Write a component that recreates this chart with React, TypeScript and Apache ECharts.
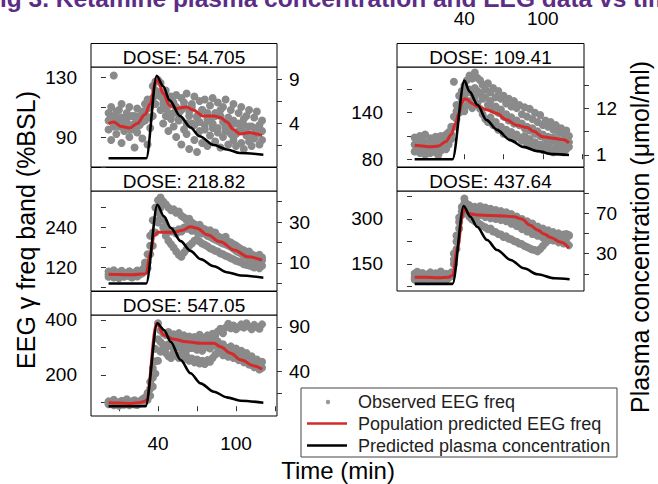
import React, { useEffect, useRef } from "react";
import * as echarts from "echarts";

// ---------- data ----------
const TIMES = [2, 4, 6, 8, 10, 12, 14, 16, 18, 20, 22, 24, 26, 28, 30, 32, 34, 36, 38, 40, 42, 44, 46, 48, 50, 52, 54, 56, 58, 60, 62, 64, 66, 68, 70, 72, 74, 76, 78, 80, 82, 84, 86, 88, 90, 92, 94, 96, 98, 100, 102, 104, 106, 108, 110, 112, 114, 116, 118, 120];

const X_TICKS = [10, 40, 70, 100, 130];
const X_LABELS = [40, 100];

const DOSES = ["54.705", "109.41", "218.82", "437.64", "547.05"];

// Dose 54.705
const OBS_A1 = [106, 110, 131, 103, 108, 112, 100, 106, 110, 98, 104, 109, 101, 107, 112, 115, 110, 124, 127, 120, 126, 115, 121, 111, 117, 113, 118, 106, 116, 110, 119, 104, 112, 117, 103, 114, 108, 115, 102, 111, 116, 106, 113, 104, 110, 115, 101, 108, 112, 99, 106, 110, 98, 104, 108, 97, 103, 107, 95, 101];
const OBS_A2 = [95, 88, 100, 92, 97, 86, 94, 99, 90, 95, 83, 93, 98, 89, 101, 85, 96, 104, 112, 118, 108, 99, 104, 94, 102, 97, 90, 101, 85, 95, 92, 82, 99, 88, 80, 94, 86, 98, 84, 91, 96, 87, 93, 83, 90, 97, 85, 92, 88, 84, 94, 86, 82, 91, 87, 84, 89, 93, 85, 88];
const OBS_A3 = [101, 104, 97, 107, 99, 103, 96, 102, 95, 104, 99, 97, 104, 100, 106, 109, 103, 116, 121, 128, 117, 112, 109, 106, 112, 106, 110, 102, 108, 113, 99, 107, 110, 98, 104, 100, 108, 95, 106, 101, 99, 104, 96, 108, 100, 94, 103, 97, 101, 92, 99, 95, 102, 93, 97, 90, 96, 92, 98, 94];
const RED_A = [[2, 99], [6, 100], [12, 97], [18, 96], [24, 99], [30, 105], [34, 112], [38, 126], [40, 128], [44, 119], [49, 111], [54, 109], [62, 110], [67, 108], [75, 104], [83, 104], [88, 103], [93, 100], [98, 95], [103, 92], [111, 93], [116, 92], [120, 91]];
const PK_A = [[2, 0], [31, 0], [39, 9.4], [44, 8.2], [49, 6.6], [57, 4.8], [65, 3.5], [72, 2.5], [83, 1.5], [93, 1.0], [103, 0.6], [121, 0.4]];
const EEG_TICKS_A = [70, 90, 110, 130];
const EEG_LABELS_A = [90, 130];
const PK_TICKS_A = [1.5, 4, 6.5, 9];
const PK_LABELS_A = [4, 9];

// Dose 109.41
const OBS_B1 = [108, 103, 110, 105, 112, 101, 107, 104, 109, 102, 110, 106, 112, 115, 122, 180, 150, 162, 168, 175, 182, 188, 184, 192, 185, 182, 176, 170, 178, 166, 172, 160, 168, 158, 162, 152, 158, 148, 155, 146, 150, 138, 147, 135, 145, 132, 140, 128, 137, 124, 130, 122, 128, 118, 124, 115, 120, 112, 117, 110];
const OBS_B2 = [90, 95, 88, 93, 86, 91, 88, 94, 89, 85, 91, 96, 93, 99, 106, 122, 132, 140, 146, 142, 150, 155, 146, 160, 152, 145, 138, 132, 128, 134, 124, 128, 118, 122, 113, 118, 110, 115, 106, 112, 108, 104, 110, 100, 106, 97, 102, 94, 99, 92, 97, 91, 95, 89, 94, 91, 95, 89, 93, 96];
const OBS_B3 = [99, 102, 96, 100, 94, 97, 101, 96, 99, 94, 98, 102, 100, 104, 112, 135, 142, 150, 158, 160, 166, 170, 165, 172, 168, 165, 158, 160, 150, 155, 146, 148, 140, 144, 135, 138, 130, 134, 126, 130, 124, 126, 120, 122, 117, 120, 113, 116, 110, 112, 106, 109, 104, 108, 102, 105, 101, 104, 100, 102];
const RED_B = [[2, 98], [8, 97], [14, 96], [20, 97], [26, 103], [30, 112], [33, 125], [36, 140], [38, 152], [40, 158], [42, 157], [46, 152], [50, 148], [57, 144], [65, 139], [72, 131], [80, 124], [88, 121], [93, 116], [100, 109], [108, 107], [116, 105], [120, 101]];
const PK_B = [[2, 0], [31, 0], [40, 18.5], [44, 15.9], [50, 12.8], [57, 9.2], [65, 6.9], [75, 4.5], [85, 2.9], [96, 1.9], [108, 1.2], [120, 1.0]];
const EEG_TICKS_B = [80, 110, 140, 170];
const EEG_LABELS_B = [80, 140];
const PK_TICKS_B = [1, 6.5, 12, 17.5];
const PK_LABELS_B = [1, 12];

// Dose 218.82
const OBS_C1 = [108, 100, 112, 98, 105, 110, 102, 96, 109, 104, 99, 111, 103, 114, 125, 160, 215, 262, 300, 322, 330, 318, 310, 300, 292, 295, 284, 288, 275, 270, 262, 266, 255, 250, 245, 248, 238, 235, 228, 232, 220, 225, 214, 210, 205, 212, 198, 195, 190, 186, 180, 175, 172, 165, 168, 160, 156, 152, 158, 150];
const OBS_C2 = [92, 97, 90, 99, 88, 95, 92, 100, 94, 90, 96, 93, 99, 103, 135, 118, 160, 185, 225, 255, 270, 240, 215, 200, 190, 180, 168, 158, 152, 165, 175, 185, 192, 200, 205, 198, 192, 188, 184, 178, 175, 170, 168, 162, 160, 155, 152, 148, 145, 140, 138, 135, 130, 128, 126, 124, 120, 122, 118, 125];
const OBS_C3 = [100, 104, 95, 102, 98, 101, 96, 104, 100, 97, 103, 98, 101, 108, 112, 135, 185, 225, 260, 285, 300, 265, 245, 235, 228, 230, 222, 235, 228, 240, 236, 244, 230, 238, 226, 232, 222, 225, 215, 212, 208, 204, 200, 196, 192, 190, 186, 182, 176, 170, 166, 162, 156, 152, 148, 145, 140, 144, 138, 142];
const RED_C = [[2, 100], [10, 99], [20, 98], [30, 101], [31, 103], [34, 160], [37, 215], [40, 226], [52, 226], [58, 231], [65, 242], [70, 238], [78, 218], [88, 197], [99, 172], [109, 152], [120, 142]];
const PK_C = [[2, 0], [31, 0], [39.5, 38.4], [44.6, 32.8], [49.7, 27.2], [57.4, 20.7], [65, 15.9], [72.7, 11.9], [83, 8.4], [93, 5.5], [103.5, 3.9], [121, 2.8]];
const EEG_TICKS_C = [60, 120, 180, 240, 300];
const EEG_LABELS_C = [120, 240];
const PK_TICKS_C = [0, 10, 20, 30, 40];
const PK_LABELS_C = [10, 30];

// Dose 437.64
const OBS_D1 = [118, 124, 112, 120, 108, 116, 122, 110, 119, 113, 125, 109, 117, 114, 122, 185, 245, 305, 340, 368, 350, 345, 332, 340, 328, 342, 330, 338, 326, 334, 322, 330, 318, 326, 314, 322, 310, 316, 305, 308, 298, 300, 290, 292, 282, 285, 272, 275, 265, 268, 258, 262, 250, 256, 246, 252, 242, 248, 240, 244];
const OBS_D2 = [98, 94, 104, 96, 101, 93, 100, 97, 94, 102, 95, 99, 96, 103, 110, 150, 200, 268, 312, 338, 318, 306, 298, 292, 288, 282, 276, 272, 266, 268, 258, 256, 250, 248, 240, 242, 234, 232, 226, 224, 218, 216, 210, 206, 202, 198, 196, 192, 200, 210, 220, 228, 236, 244, 238, 250, 244, 240, 250, 246];
const OBS_D3 = [106, 110, 102, 108, 104, 99, 107, 103, 110, 105, 101, 108, 104, 106, 116, 165, 225, 290, 325, 352, 330, 322, 315, 318, 312, 312, 318, 306, 314, 302, 310, 300, 308, 296, 304, 292, 298, 284, 290, 276, 280, 266, 270, 258, 262, 250, 255, 244, 248, 238, 242, 232, 236, 228, 232, 222, 226, 218, 222, 212];
const RED_D = [[2, 106], [10, 106], [20, 104], [28, 106], [31, 112], [35, 208], [38.5, 310], [40, 335], [43, 318], [50, 313], [60, 311], [70, 310], [78, 307], [84, 300], [90, 280], [96, 263], [101, 250], [106, 238], [114, 222], [120, 203]];
const PK_D = [[2, 0], [31, 0], [39.5, 77.2], [44.6, 66.6], [49.7, 56.7], [57.4, 43.5], [65, 33.6], [75.4, 23.7], [85.6, 15.4], [96, 9.5], [108.7, 5.5], [120.5, 4.5]];
const EEG_TICKS_D = [75, 150, 225, 300, 375];
const EEG_LABELS_D = [150, 300];
const PK_TICKS_D = [10, 30, 50, 70, 90];
const PK_LABELS_D = [30, 70];

// Dose 547.05
const OBS_E1 = [104, 98, 110, 100, 95, 106, 99, 112, 101, 96, 108, 100, 105, 112, 118, 135, 175, 225, 295, 388, 362, 352, 345, 356, 338, 348, 336, 352, 330, 344, 326, 340, 322, 338, 328, 346, 320, 336, 344, 330, 350, 342, 358, 368, 352, 372, 386, 370, 380, 366, 374, 384, 372, 388, 376, 366, 382, 374, 368, 384];
const OBS_E2 = [94, 100, 90, 97, 88, 96, 92, 95, 90, 99, 93, 91, 97, 100, 106, 110, 125, 158, 205, 252, 285, 298, 280, 268, 262, 282, 270, 262, 276, 258, 268, 252, 260, 246, 256, 242, 252, 240, 254, 248, 262, 274, 282, 288, 272, 284, 266, 278, 262, 270, 254, 260, 246, 250, 238, 236, 228, 232, 220, 226];
const OBS_E3 = [99, 95, 104, 97, 101, 93, 102, 98, 96, 104, 99, 97, 101, 105, 110, 120, 150, 190, 250, 330, 320, 310, 300, 312, 305, 312, 300, 318, 296, 306, 290, 310, 298, 314, 292, 304, 288, 300, 310, 296, 318, 306, 322, 298, 312, 300, 290, 304, 282, 296, 276, 288, 268, 280, 260, 268, 250, 256, 240, 248];
const RED_E = [[2, 99], [10, 98], [18, 96], [26, 100], [30, 105], [31, 109], [39, 388], [44.6, 345], [52, 330], [62, 321], [73, 315], [83, 315], [88, 303], [96, 279], [103.5, 255], [114, 233], [120, 221]];
const PK_E = [[2, 0], [30.5, 0], [39.5, 94.2], [44.6, 86.6], [49.7, 73.3], [57.4, 52.5], [65, 37.4], [72.7, 26], [83, 16.5], [93, 10.1], [103.5, 6.3], [121, 4]];
const EEG_TICKS_E = [100, 200, 300, 400];
const EEG_LABELS_E = [200, 400];
const PK_TICKS_E = [15, 40, 65, 90];
const PK_LABELS_E = [40, 90];

const LEGEND_LABELS = ["Observed EEG freq", "Population predicted EEG freq", "Predicted plasma concentration"];

// ---------- layout ----------
const FONT = "'Liberation Sans', Arial, Helvetica, sans-serif";
const GREY = "#8a8a8a";
const RED = "#d42a2a";
const STRIP_H = 23.5;

const PANELS = [
  { dose: DOSES[0], obs: [OBS_A1, OBS_A2, OBS_A3], red: RED_A, pk: PK_A, left: 91, top: 67, width: 186, height: 100, eMin: 70, eMax: 136.7, eT: EEG_TICKS_A, eL: EEG_LABELS_A, cMin: -1, cMax: 10.4, cT: PK_TICKS_A, cL: PK_LABELS_A, xPos: "" },
  { dose: DOSES[1], obs: [OBS_B1, OBS_B2, OBS_B3], red: RED_B, pk: PK_B, left: 397, top: 67, width: 187, height: 100, eMin: 70, eMax: 199, eT: EEG_TICKS_B, eL: EEG_LABELS_B, cMin: -1.83, cMax: 21.7, cT: PK_TICKS_B, cL: PK_LABELS_B, xPos: "top" },
  { dose: DOSES[2], obs: [OBS_C1, OBS_C2, OBS_C3], red: RED_C, pk: PK_C, left: 91, top: 191, width: 186, height: 100, eMin: 49.5, eMax: 349.5, eT: EEG_TICKS_C, eL: EEG_LABELS_C, cMin: -3.7, cMax: 45.2, cT: PK_TICKS_C, cL: PK_LABELS_C, xPos: "" },
  { dose: DOSES[3], obs: [OBS_D1, OBS_D2, OBS_D3], red: RED_D, pk: PK_D, left: 397, top: 191, width: 187, height: 100, eMin: 60, eMax: 393, eT: EEG_TICKS_D, eL: EEG_LABELS_D, cMin: -7.1, cMax: 92.1, cT: PK_TICKS_D, cL: PK_LABELS_D, xPos: "" },
  { dose: DOSES[4], obs: [OBS_E1, OBS_E2, OBS_E3], red: RED_E, pk: PK_E, left: 91, top: 315, width: 186, height: 101, eMin: 51, eMax: 418, eT: EEG_TICKS_E, eL: EEG_LABELS_E, cMin: -11.1, cMax: 103.6, cT: PK_TICKS_E, cL: PK_LABELS_E, xPos: "bottom" },
];

export default function App() {
  const ref = useRef<HTMLDivElement>(null);
  useEffect(() => {
    const chart = echarts.init(ref.current as HTMLDivElement, undefined, { renderer: "svg", width: 658, height: 484 });
    const grid: any[] = [];
    const xAxis: any[] = [];
    const yAxis: any[] = [];
    const series: any[] = [];
    const graphic: any[] = [];
    const labelStyle = { color: "#000", fontSize: 19, fontFamily: FONT };
    const tickStyle = { color: "#333", width: 1 };

    PANELS.forEach((p, i) => {
      grid.push({ left: p.left, top: p.top, width: p.width, height: p.height, show: true, borderColor: "#000", borderWidth: 1, backgroundColor: "#fff" });
      const hasX = p.xPos !== "";
      const isTop = p.xPos === "top";
      xAxis.push({
        gridIndex: i, type: "value", min: -11.5, max: 131.5,
        position: isTop ? "top" : "bottom",
        offset: isTop ? STRIP_H : 0,
        axisLine: { show: false }, splitLine: { show: false },
        axisTick: { show: hasX, customValues: X_TICKS, length: 5, lineStyle: tickStyle },
        axisLabel: { show: hasX, customValues: X_LABELS, margin: isTop ? 16 : 18, ...labelStyle },
      });
      yAxis.push({
        gridIndex: i, type: "value", position: "left", min: p.eMin, max: p.eMax,
        axisLine: { show: false }, splitLine: { show: false },
        axisTick: { show: true, customValues: p.eT, length: 5, lineStyle: tickStyle },
        axisLabel: { show: true, customValues: p.eL, margin: 14, ...labelStyle },
      });
      yAxis.push({
        gridIndex: i, type: "value", position: "right", min: p.cMin, max: p.cMax,
        axisLine: { show: false }, splitLine: { show: false },
        axisTick: { show: true, customValues: p.cT, length: 5, lineStyle: tickStyle },
        axisLabel: { show: true, customValues: p.cL, margin: 12, ...labelStyle },
      });
      p.obs.forEach((obs) => {
        series.push({
          type: "scatter", xAxisIndex: i, yAxisIndex: 2 * i, z: 2,
          data: TIMES.map((t, j) => [t, obs[j]]),
          symbol: "circle", symbolSize: 8, itemStyle: { color: GREY, opacity: 1 },
        });
      });
      series.push({
        type: "line", xAxisIndex: i, yAxisIndex: 2 * i, z: 3, data: p.red,
        smooth: 0.35, smoothMonotone: "x", showSymbol: false,
        lineStyle: { color: RED, width: 3 },
      });
      series.push({
        type: "line", xAxisIndex: i, yAxisIndex: 2 * i + 1, z: 4, data: p.pk,
        smooth: 0.3, smoothMonotone: "x", showSymbol: false,
        lineStyle: { color: "#000", width: 2.6 },
      });
      graphic.push({
        type: "rect", shape: { x: p.left, y: p.top - STRIP_H, width: p.width, height: STRIP_H },
        style: { fill: "#fff", stroke: "#000", lineWidth: 1 },
      });
      graphic.push({
        type: "text", x: p.left + p.width / 2, y: p.top - STRIP_H / 2 + 2,
        style: { text: "DOSE: " + p.dose, fontSize: 19, fontFamily: FONT, fill: "#000", align: "center", verticalAlign: "middle" },
      });
    });

    // title (cut at top, as in the source figure)
    graphic.push({
      type: "text", x: -15, y: -1.5,
      style: { text: "Fig 3. Ketamine plasma concentration and EEG data vs time", fontSize: 24.5, fontWeight: "bold", fontFamily: FONT, fill: "#5b2d86", align: "left", verticalAlign: "middle" },
    });
    // axis titles
    graphic.push({
      type: "text", x: 26, y: 230, rotation: Math.PI / 2,
      style: { text: "EEG γ freq band (%BSL)", fontSize: 25, fontFamily: FONT, fill: "#000", align: "center", verticalAlign: "middle" },
    });
    graphic.push({
      type: "text", x: 640, y: 237, rotation: Math.PI / 2,
      style: { text: "Plasma concentration (μmol/ml)", fontSize: 25, fontFamily: FONT, fill: "#000", align: "center", verticalAlign: "middle" },
    });
    graphic.push({
      type: "text", x: 338, y: 470,
      style: { text: "Time (min)", fontSize: 24, fontFamily: FONT, fill: "#000", align: "center", verticalAlign: "middle" },
    });
    // legend
    graphic.push({
      type: "rect", shape: { x: 301, y: 388, width: 316, height: 69 },
      style: { fill: "#fff", stroke: "#444", lineWidth: 1 },
    });
    graphic.push({ type: "circle", shape: { cx: 328, cy: 402, r: 2.2 }, style: { fill: "#999" } });
    graphic.push({ type: "line", shape: { x1: 307, y1: 423.5, x2: 347, y2: 423.5 }, style: { stroke: RED, lineWidth: 2.5 } });
    graphic.push({ type: "line", shape: { x1: 307, y1: 445.5, x2: 347, y2: 445.5 }, style: { stroke: "#000", lineWidth: 2.5 } });
    LEGEND_LABELS.forEach((lab, k) => {
      graphic.push({
        type: "text", x: 358, y: 402 + 22 * k,
        style: { text: lab, fontSize: 18, fontFamily: FONT, fill: "#222", align: "left", verticalAlign: "middle" },
      });
    });

    chart.setOption({ animation: false, backgroundColor: "#fff", grid, xAxis, yAxis, series, graphic });
    return () => chart.dispose();
  }, []);
  return <div ref={ref} style={{ position: "fixed", left: 0, top: 0, width: 658, height: 484 }} />;
}
